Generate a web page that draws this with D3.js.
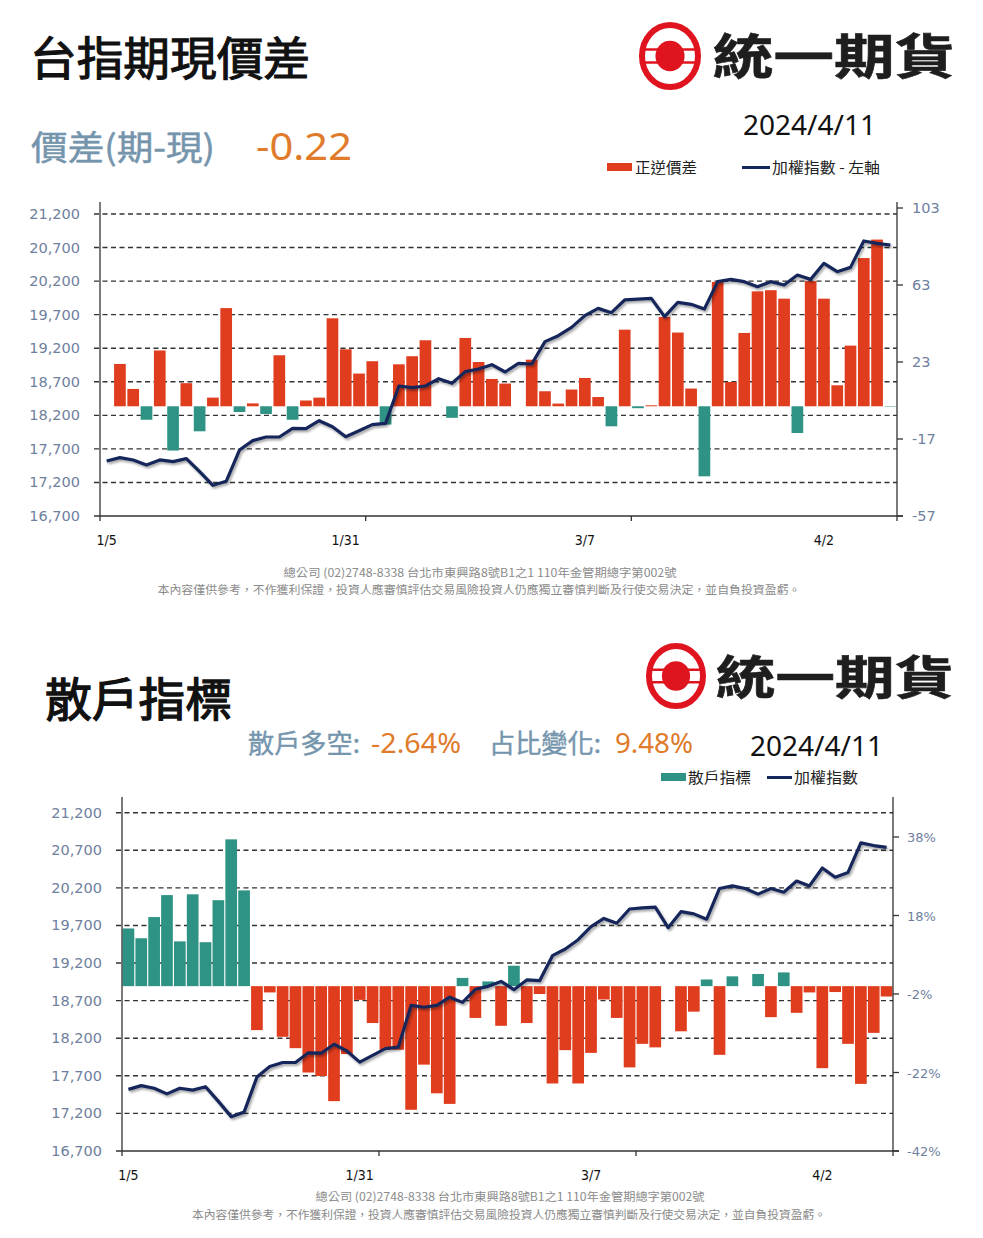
<!DOCTYPE html>
<html><head><meta charset="utf-8">
<script src="https://cdn.jsdelivr.net/npm/d3@7"></script>
<style>html,body{margin:0;padding:0;background:#fff;}svg{display:block;}</style>
</head><body>
<script>
// ---------- DATA ----------
const dates = ["1/5","1/8","1/9","1/10","1/11","1/12","1/15","1/16","1/17","1/18","1/19","1/22","1/23","1/24","1/25","1/26","1/29","1/30","1/31",
"2/1","2/2","2/5","2/15","2/16","2/19","2/20","2/21","2/22","2/23","2/26","2/27","2/29",
"3/1","3/4","3/5","3/6","3/7","3/8","3/11","3/12","3/13","3/14","3/15","3/18","3/19","3/20","3/21","3/22","3/25","3/26","3/27","3/28","3/29",
"4/1","4/2","4/3","4/8","4/9","4/10","4/11"];
const xTickLabels = ["1/5","1/31","3/7","4/2"];
const taiex = [17520,17570,17535,17460,17535,17510,17555,17360,17157,17217,17683,17823,17877,17877,18006,18001,18120,18031,17882,17971,
18061,18081,18637,18612,18637,18746,18677,18851,18890,18955,18846,18975,18965,19298,19387,19511,19685,19794,19730,19919,
19933,19943,19670,19884,19854,19784,20192,20226,20192,20117,20192,20142,20291,20226,20465,20341,20405,20798,20763,20738];
const basis = [0,22,9,-7,29,-23,12,-13,4.5,51,-3,1.5,-4,26.5,-7,3,4.5,45.7,29.6,17,
23.4,-9.5,21.8,26,34.3,0,-6,35.5,23,14.2,11.8,0,24.2,7.8,1.4,8.7,14.7,4.8,-10.4,39.8,
-1,0.5,46.4,38.3,9.2,-36.4,64.6,12.6,38.1,59.7,60.3,55.9,-13.9,65,55.9,10.9,31.5,77,86.6,-0.22];
const retail = [14.7,12.2,17.6,23.2,11.4,23.4,11.2,21.9,37.4,24.4,-11.2,-1.6,-12.9,-15.8,-22.0,-22.9,-29.3,-17.3,-3.5,-9.4,
-16.2,-16.2,-31.5,-20,-27.3,-30,2.1,-8.1,1.2,-10.1,5.2,-9.4,-2.0,-24.8,-16.3,-24.8,-17.0,-3.4,-8.1,-20.7,
-14.7,-15.6,0,-11.5,-6.5,1.7,-17.5,2.5,0,3.1,-7.9,3.5,-6.8,-1.6,-20.9,-1.5,-14.7,-24.9,-11.9,-2.64];
const leftTicks = [16700,17200,17700,18200,18700,19200,19700,20200,20700,21200];
const basisTicks = [-57,-17,23,63,103];
const retailTicks = [-42,-22,-2,18,38];
const footer1 = "總公司 (02)2748-8338 台北市東興路8號B1之1 110年金管期總字第002號";
const footer2 = "本內容僅供參考，不作獲利保證，投資人應審慎評估交易風險投資人仍應獨立審慎判斷及行使交易決定，並自負投資盈虧。";

// ---------- STYLE ----------
const RED = "#e03c1e", TEAL = "#2e9384", NAVY = "#14275a";
const AXLAB = "#6f809e", BLUEGRAY = "#7595ad", ORANGE = "#e07b2c";
const CJK = "'Noto Sans CJK TC','Noto Sans',sans-serif";

const svg = d3.select("body").append("svg").attr("width",983).attr("height",1238);
svg.append("rect").attr("width",983).attr("height",1238).attr("fill","#fff");
const defs = svg.append("defs");
const f = defs.append("filter").attr("id","sh").attr("x","-5%").attr("y","-20%").attr("width","110%").attr("height","140%");
f.append("feDropShadow").attr("dx",1.5).attr("dy",2).attr("stdDeviation",1.2).attr("flood-color","#000").attr("flood-opacity",0.35);

function txt(x,y,s,size,fill,opts={}){
  const t = svg.append("text").attr("x",x).attr("y",y).text(s)
    .attr("font-size",size).attr("fill",fill).attr("font-family",opts.family||CJK)
    .attr("font-weight",opts.weight||"normal");
  if(opts.anchor) t.attr("text-anchor",opts.anchor);
  if(opts.len) t.attr("textLength",opts.len).attr("lengthAdjust","spacingAndGlyphs");
  if(opts.stretch) t.attr("font-stretch",opts.stretch);
  if(opts.stroke) t.attr("stroke",fill).attr("stroke-width",opts.stroke);
  return t;
}

function logo(cx,cy,rx,ry,tx,ty,tlen,tsize){
  const g = svg.append("g");
  g.append("ellipse").attr("cx",cx).attr("cy",cy).attr("rx",rx-3).attr("ry",ry-3)
    .attr("fill","none").attr("stroke","#e0141e").attr("stroke-width",6);
  g.append("ellipse").attr("cx",cx).attr("cy",cy).attr("rx",rx*0.47).attr("ry",ry*0.45).attr("fill","#e0141e");
  [-1,1].forEach(s=>{
    g.append("line").attr("x1",cx-rx+4).attr("x2",cx+rx-4).attr("y1",cy+s*ry*0.19).attr("y2",cy+s*ry*0.19)
      .attr("stroke","#e0141e").attr("stroke-width",2.5);
  });
  txt(tx,ty,"統一期貨",tsize,"#1e1e1e",{weight:"bold",len:tlen,stroke:0.6});
}

function chart(c){
  const xb = d3.scaleLinear().domain([0,dates.length]).range([c.x0,c.x1]);
  const xBand = d3.scaleBand().domain(d3.range(dates.length)).range([c.x0,c.x1])
    .paddingInner(c.pad).paddingOuter(c.pad/2);
  const yL = d3.scaleLinear().domain([16700,21200]).range([c.yB,c.yLT]);
  const yR = d3.scaleLinear().domain(c.rDom).range([c.yB,c.yRT]);
  const g = svg.append("g");
  leftTicks.filter(t=>t>16700).forEach(t=>{
    g.append("line").attr("x1",c.x0-6).attr("x2",c.x1).attr("y1",yL(t)).attr("y2",yL(t))
      .attr("stroke","#333").attr("stroke-width",1.4).attr("stroke-dasharray","5,3.5");
  });
  g.selectAll("rect.b").data(c.bars).join("rect")
    .attr("x",(d,i)=>xBand(i)).attr("width",xBand.bandwidth())
    .attr("y",d=>yR(Math.max(0,d))).attr("height",d=>Math.abs(yR(d)-yR(0)))
    .attr("fill",d=>d>=0?c.posCol:c.negCol);
  g.append("line").attr("x1",c.x0).attr("x2",c.x0).attr("y1",c.axTop).attr("y2",c.yB).attr("stroke","#333").attr("stroke-width",1.3);
  g.append("line").attr("x1",c.x1).attr("x2",c.x1).attr("y1",c.axTop).attr("y2",c.yB).attr("stroke","#333").attr("stroke-width",1.3);
  g.append("line").attr("x1",c.x0-6).attr("x2",c.x1+6).attr("y1",c.yB).attr("y2",c.yB).attr("stroke","#333").attr("stroke-width",1.3);
  [0,20,40,60].forEach(i=>{
    g.append("line").attr("x1",xb(i)).attr("x2",xb(i)).attr("y1",c.yB).attr("y2",c.yB+5).attr("stroke","#333").attr("stroke-width",1.3);
  });
  c.rTicks.forEach(t=>{
    g.append("line").attr("x1",c.x1).attr("x2",c.x1+6).attr("y1",yR(t)).attr("y2",yR(t)).attr("stroke","#333").attr("stroke-width",1.3);
    txt(c.x1+c.rLabDx,yR(t)+5,c.rFmt(t),c.rSize,AXLAB,{family:"'DejaVu Sans',sans-serif"});
  });
  leftTicks.forEach(t=>{
    txt(c.x0-c.lLabDx,yL(t)+5,d3.format(",")(t),14.5,AXLAB,{family:"'DejaVu Sans',sans-serif",anchor:"end"});
  });
  xTickLabels.forEach(l=>{
    const i = dates.indexOf(l);
    txt(xb(i+0.5),c.yB+29,l,14,"#111",{family:"'DejaVu Sans Condensed','DejaVu Sans',sans-serif",anchor:"middle",stretch:"condensed"});
  });
  const line = d3.line().x((d,i)=>xb(i+0.5)).y(d=>yL(d));
  g.append("path").datum(taiex).attr("d",line).attr("fill","none").attr("stroke",NAVY)
    .attr("stroke-width",3.2).attr("stroke-linejoin","round").attr("filter","url(#sh)");
}

// ---------- TOP SECTION ----------
txt(30,75,"台指期現價差",46,"#111",{stroke:1.1,len:280});
logo(670,56,31,34,713,74,242,48);
txt(743,135,"2024/4/11",28,"#111",{family:"'Noto Sans',sans-serif"});
txt(31,160,"價差(期-現)",34,BLUEGRAY,{len:184,stroke:0.5});
txt(256,160,"-0.22",38,ORANGE,{family:"'Noto Sans',sans-serif",len:96});
svg.append("rect").attr("x",607).attr("y",163).attr("width",25).attr("height",8).attr("fill",RED);
txt(635,173,"正逆價差",15,"#222",{len:62});
svg.append("line").attr("x1",742).attr("x2",770).attr("y1",167.5).attr("y2",167.5).attr("stroke",NAVY).attr("stroke-width",3);
txt(772,173,"加權指數 - 左軸",15,"#222",{len:108});

chart({x0:100,x1:897,yB:516,yLT:214,yRT:208,axTop:202,rDom:[-57,103],bars:basis,pad:0.12,
  posCol:RED,negCol:TEAL,rTicks:basisTicks,rFmt:d=>String(d),rLabDx:15,lLabDx:20,rSize:14.5});

txt(480,577,footer1,11.5,"#8a8a8a",{anchor:"middle",len:393,stretch:"condensed"});
txt(479,594,footer2,11.5,"#8a8a8a",{anchor:"middle",len:643,stretch:"condensed"});

// ---------- BOTTOM SECTION ----------
logo(676,676,30,33,716,694,238,46);
txt(45,716,"散戶指標",46,"#111",{stroke:1.3,len:187});
txt(248,753,"散戶多空:",26,BLUEGRAY,{len:112,stroke:0.4});
txt(371,753,"-2.64%",27,ORANGE,{family:"'Noto Sans',sans-serif",len:90});
txt(489,753,"占比變化:",26,BLUEGRAY,{len:112,stroke:0.4});
txt(615,753,"9.48%",27,ORANGE,{family:"'Noto Sans',sans-serif",len:78});
txt(750,756,"2024/4/11",28,"#111",{family:"'Noto Sans',sans-serif"});
svg.append("rect").attr("x",661).attr("y",773).attr("width",25).attr("height",8).attr("fill",TEAL);
txt(688,783,"散戶指標",15,"#222",{len:63});
svg.append("line").attr("x1",767).attr("x2",792).attr("y1",777.5).attr("y2",777.5).attr("stroke",NAVY).attr("stroke-width",3);
txt(794,783,"加權指數",15,"#222",{len:64});

chart({x0:122,x1:893,yB:1151,yLT:812.7,yRT:797.75,axTop:797,rDom:[-42,48],bars:retail,pad:0.09,
  posCol:TEAL,negCol:RED,rTicks:retailTicks,rFmt:d=>d+"%",rLabDx:14,lLabDx:20,rSize:13});

txt(510,1201,footer1,11.5,"#8a8a8a",{anchor:"middle",len:389,stretch:"condensed"});
txt(509,1219,footer2,11.5,"#8a8a8a",{anchor:"middle",len:634,stretch:"condensed"});
</script>
</body></html>
